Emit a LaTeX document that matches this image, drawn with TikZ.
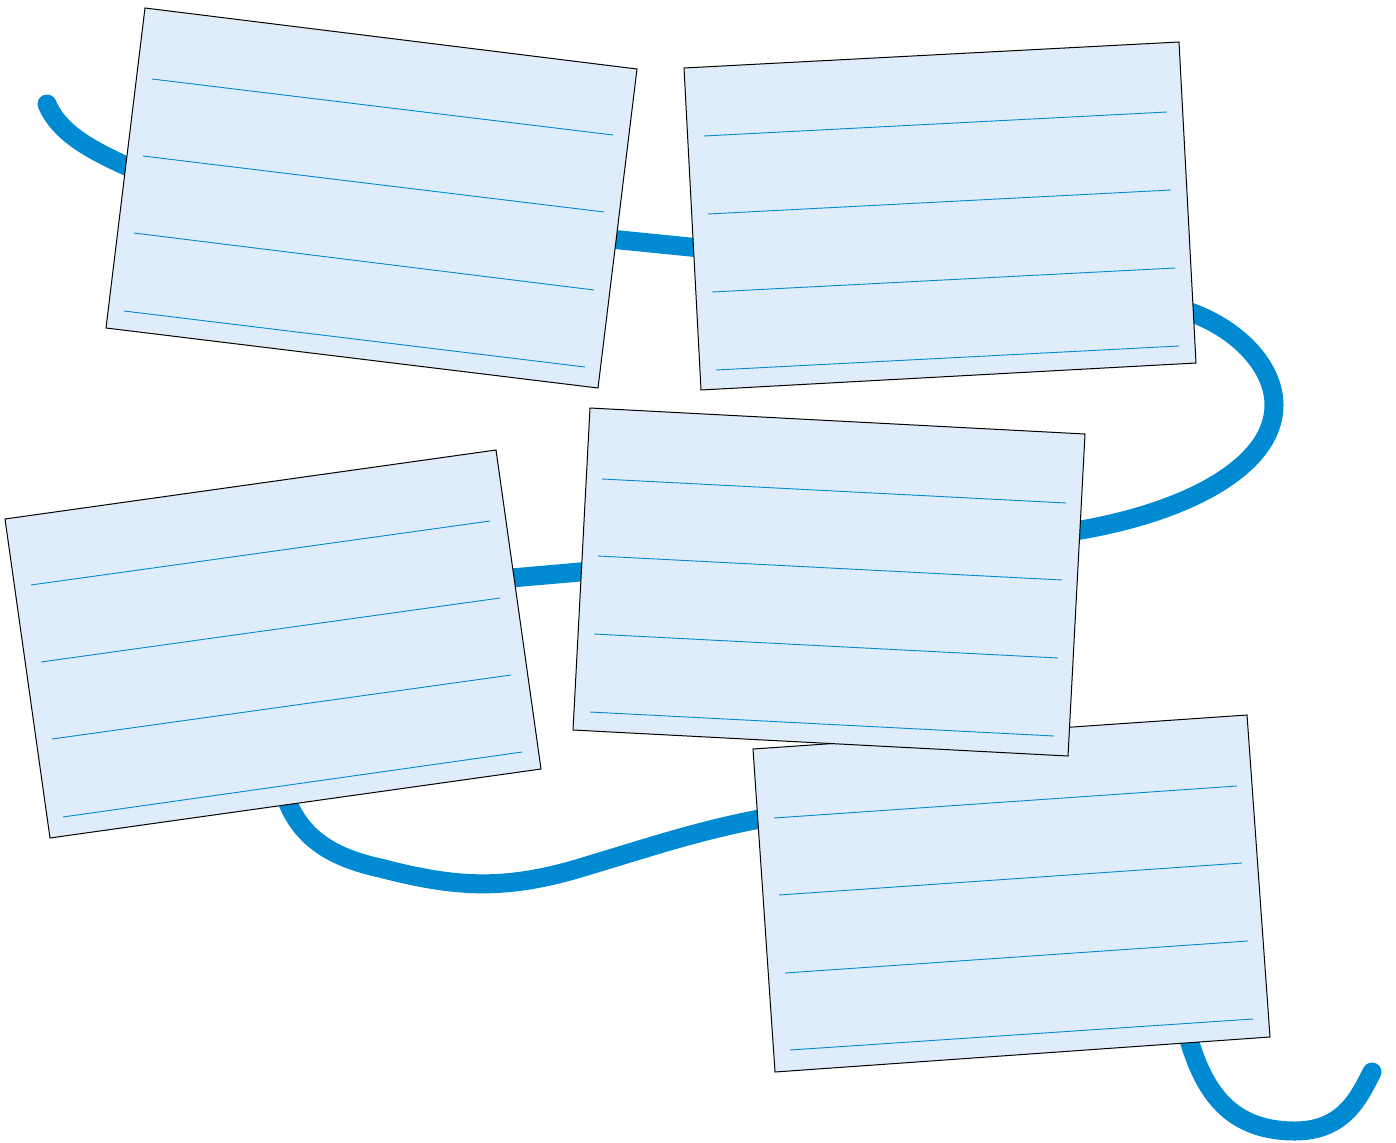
\documentclass[tikz,border=0pt]{standalone}
\usetikzlibrary{calc}
\definecolor{rope}{RGB}{0,138,210}
\definecolor{cardfill}{RGB}{223,236,250}
\definecolor{rule}{RGB}{0,138,210}
\tikzset{
  ropeline/.style={draw=rope,line width=19pt,line cap=round,line join=round},
  cardbox/.style={draw=black,fill=cardfill,line width=1pt,line join=miter},
  ruleline/.style={draw=rule,line width=0.9pt}
}
\begin{document}
\begin{tikzpicture}[x=1pt,y=-1pt]
\useasboundingbox (0,0) rectangle (1396,1142);
% rope (behind the cards)
\coordinate (r0) at (47,104);
\coordinate (r9) at (1372,1072);
\draw[ropeline] (r0) .. controls (60,135) and (95,152) .. (135,170)
  -- (600,238) -- (700,248)
  -- (1190,312) .. controls (1240,330) and (1274,368) .. (1274,405)
  .. controls (1274,465) and (1190,512) .. (1075,531)
  -- (580,572) -- (500,579)
  -- (285,795) .. controls (300,840) and (335,858) .. (380,868)
  .. controls (450,886) and (500,892) .. (580,868)
  .. controls (650,847) and (700,830) .. (765,818)
  -- (1185,1025) .. controls (1200,1085) and (1225,1131) .. (1295,1131)
  .. controls (1345,1131) and (1360,1095) .. (r9);
% card 1
\draw[cardbox] (145,8) -- (637,69) -- (598,388) -- (106,328) -- cycle;
\draw[ruleline] (152,79) -- (613,135);
\draw[ruleline] (143,156) -- (604,212);
\draw[ruleline] (134,233) -- (594,290);
\draw[ruleline] (124,311) -- (585,367);
% card 2
\draw[cardbox] (684,68) -- (1179,42) -- (1196,363) -- (701,390) -- cycle;
\draw[ruleline] (704,136) -- (1167,112);
\draw[ruleline] (708,214) -- (1171,190);
\draw[ruleline] (712,292) -- (1175,268);
\draw[ruleline] (716,370) -- (1179,346);
% card 3
\draw[cardbox] (5,519) -- (496,450) -- (541,769) -- (50,838) -- cycle;
\draw[ruleline] (31,585) -- (490,521);
\draw[ruleline] (41,662) -- (500,598);
\draw[ruleline] (52,739) -- (511,675);
\draw[ruleline] (63,817) -- (522,752);
% card 5 (behind card 4)
\draw[cardbox] (753,749) -- (1247,715) -- (1270,1037) -- (775,1072) -- cycle;
\draw[ruleline] (774,818) -- (1237,786);
\draw[ruleline] (779,895) -- (1242,863);
\draw[ruleline] (785,973) -- (1248,941);
\draw[ruleline] (790,1050) -- (1253,1019);
% card 4
\draw[cardbox] (590,408) -- (1085,434) -- (1068,756) -- (573,730) -- cycle;
\draw[ruleline] (602,479) -- (1066,503);
\draw[ruleline] (598,556) -- (1062,580);
\draw[ruleline] (594,634) -- (1058,658);
\draw[ruleline] (590,712) -- (1054,736);
\end{tikzpicture}
\end{document}
